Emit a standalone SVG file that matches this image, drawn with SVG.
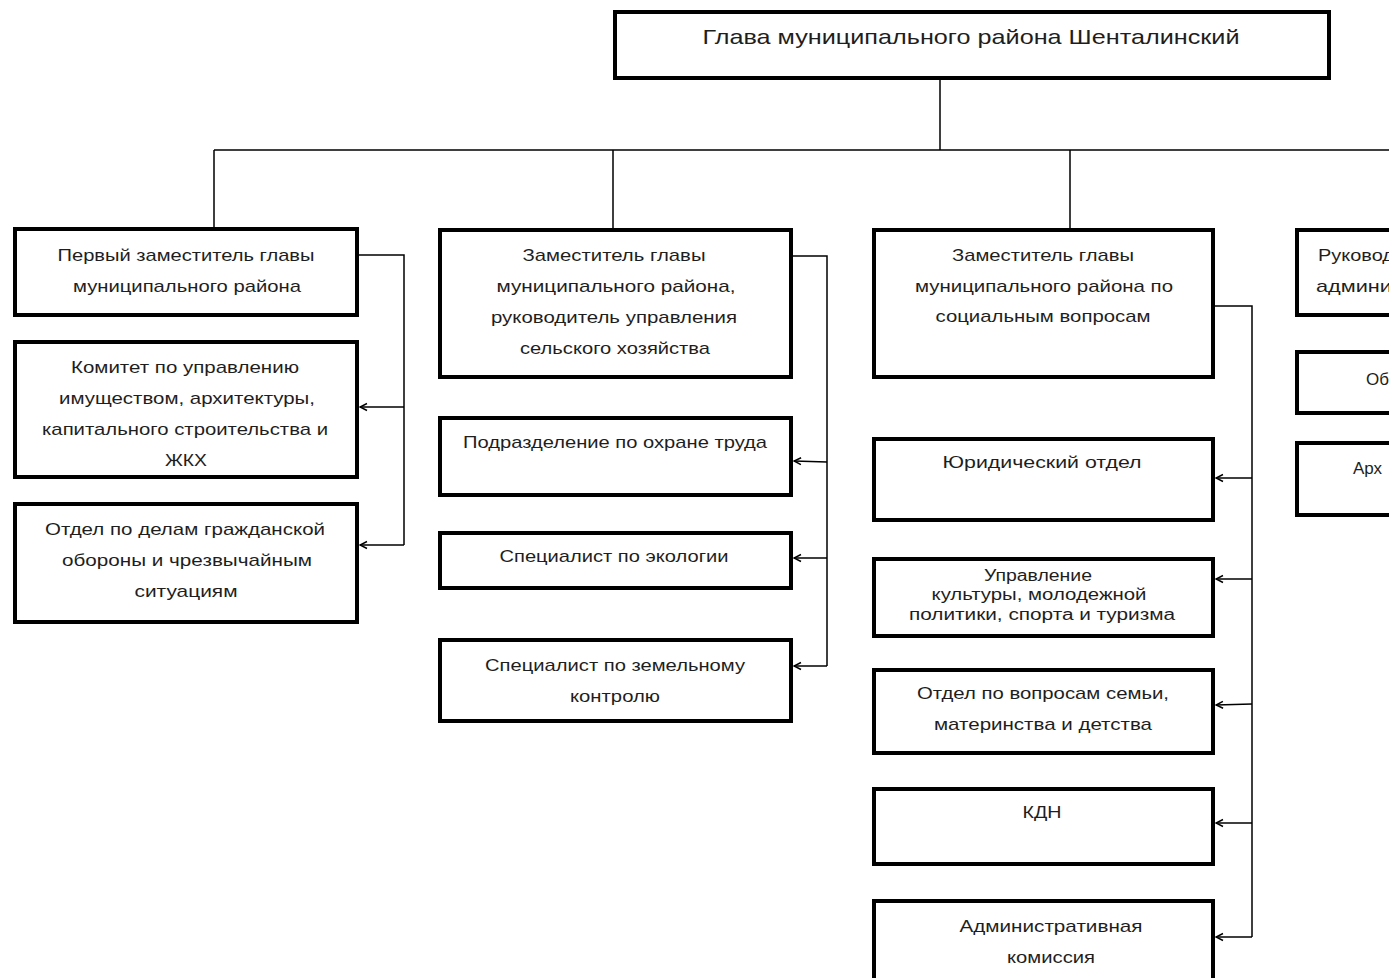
<svg xmlns="http://www.w3.org/2000/svg" width="1389" height="978" viewBox="0 0 1389 978">
<style>
.box{fill:#fff;stroke:#000;stroke-width:4}
.t{font-family:"Liberation Sans",Arial,sans-serif;font-size:17px;fill:#1e1e1e;text-anchor:middle}
.ts{font-family:"Liberation Sans",Arial,sans-serif;font-size:16px;fill:#1e1e1e;text-anchor:middle}
.tl{font-family:"Liberation Sans",Arial,sans-serif;font-size:17px;fill:#1e1e1e;text-anchor:start}
.tt{font-family:"Liberation Sans",Arial,sans-serif;font-size:21px;fill:#1e1e1e;text-anchor:middle}
.c{fill:none;stroke:#000;stroke-width:1.5}
</style>
<defs>
<marker id="arr" viewBox="0 0 10 10" refX="9" refY="5" markerWidth="10" markerHeight="10" markerUnits="userSpaceOnUse" orient="auto">
<path d="M2,1.5 L9,5 L2,8.5" fill="none" stroke="#000" stroke-width="1.5"/>
</marker>
</defs>
<rect width="1389" height="978" fill="#fff"/>
<g id="head">
<rect class="box" x="615" y="12" width="714" height="66"/>
<text class="tt" x="971" y="44" textLength="537" lengthAdjust="spacingAndGlyphs">Глава муниципального района Шенталинский</text>
</g>
<g id="first-deputy">
<rect class="box" x="15" y="229" width="342" height="86"/>
<text class="t" x="186" y="261" textLength="257" lengthAdjust="spacingAndGlyphs">Первый заместитель главы</text>
<text class="t" x="187" y="292" textLength="228" lengthAdjust="spacingAndGlyphs">муниципального района</text>
</g>
<g id="committee">
<rect class="box" x="15" y="342" width="342" height="135"/>
<text class="t" x="185" y="373" textLength="228" lengthAdjust="spacingAndGlyphs">Комитет по управлению</text>
<text class="t" x="187" y="404" textLength="256" lengthAdjust="spacingAndGlyphs">имуществом, архитектуры,</text>
<text class="t" x="185" y="435" textLength="286" lengthAdjust="spacingAndGlyphs">капитального строительства и</text>
<text class="t" x="186" y="466" textLength="42" lengthAdjust="spacingAndGlyphs">ЖКХ</text>
</g>
<g id="civil-defense">
<rect class="box" x="15" y="504" width="342" height="118"/>
<text class="t" x="185" y="535" textLength="280" lengthAdjust="spacingAndGlyphs">Отдел по делам гражданской</text>
<text class="t" x="187" y="566" textLength="250" lengthAdjust="spacingAndGlyphs">обороны и чрезвычайным</text>
<text class="t" x="186" y="597" textLength="103" lengthAdjust="spacingAndGlyphs">ситуациям</text>
</g>
<g id="deputy-agri">
<rect class="box" x="440" y="230" width="351" height="147"/>
<text class="t" x="614" y="261" textLength="183" lengthAdjust="spacingAndGlyphs">Заместитель главы</text>
<text class="t" x="616" y="292" textLength="239" lengthAdjust="spacingAndGlyphs">муниципального района,</text>
<text class="t" x="614" y="323" textLength="246" lengthAdjust="spacingAndGlyphs">руководитель управления</text>
<text class="t" x="615" y="354" textLength="190" lengthAdjust="spacingAndGlyphs">сельского хозяйства</text>
</g>
<g id="labor-safety">
<rect class="box" x="440" y="418" width="351" height="77"/>
<text class="t" x="615" y="448" textLength="304" lengthAdjust="spacingAndGlyphs">Подразделение по охране труда</text>
</g>
<g id="ecology">
<rect class="box" x="440" y="533" width="351" height="55"/>
<text class="t" x="614" y="562" textLength="229" lengthAdjust="spacingAndGlyphs">Специалист по экологии</text>
</g>
<g id="land-control">
<rect class="box" x="440" y="640" width="351" height="81"/>
<text class="t" x="615" y="671" textLength="260" lengthAdjust="spacingAndGlyphs">Специалист по земельному</text>
<text class="t" x="615" y="702" textLength="90" lengthAdjust="spacingAndGlyphs">контролю</text>
</g>
<g id="deputy-social">
<rect class="box" x="874" y="230" width="339" height="147"/>
<text class="t" x="1043" y="261" textLength="182" lengthAdjust="spacingAndGlyphs">Заместитель главы</text>
<text class="t" x="1044" y="292" textLength="258" lengthAdjust="spacingAndGlyphs">муниципального района по</text>
<text class="t" x="1043" y="322" textLength="215" lengthAdjust="spacingAndGlyphs">социальным вопросам</text>
</g>
<g id="legal">
<rect class="box" x="874" y="439" width="339" height="81"/>
<text class="t" x="1042" y="468" textLength="199" lengthAdjust="spacingAndGlyphs">Юридический отдел</text>
</g>
<g id="culture">
<rect class="box" x="874" y="559" width="339" height="77"/>
<text class="ts" x="1038" y="581" textLength="108" lengthAdjust="spacingAndGlyphs">Управление</text>
<text class="ts" x="1039" y="600" textLength="215" lengthAdjust="spacingAndGlyphs">культуры, молодежной</text>
<text class="ts" x="1042" y="620" textLength="266" lengthAdjust="spacingAndGlyphs">политики, спорта и туризма</text>
</g>
<g id="family">
<rect class="box" x="874" y="670" width="339" height="83"/>
<text class="t" x="1043" y="699" textLength="252" lengthAdjust="spacingAndGlyphs">Отдел по вопросам семьи,</text>
<text class="t" x="1043" y="730" textLength="218" lengthAdjust="spacingAndGlyphs">материнства и детства</text>
</g>
<g id="kdn">
<rect class="box" x="874" y="789" width="339" height="75"/>
<text class="t" x="1042" y="818" textLength="39" lengthAdjust="spacingAndGlyphs">КДН</text>
</g>
<g id="admin-commission">
<rect class="box" x="874" y="901" width="339" height="100"/>
<text class="t" x="1051" y="932" textLength="183" lengthAdjust="spacingAndGlyphs">Административная</text>
<text class="t" x="1051" y="963" textLength="88" lengthAdjust="spacingAndGlyphs">комиссия</text>
</g>
<g id="head-of-staff">
<rect class="box" x="1297" y="230" width="200" height="85"/>
<text class="tl" x="1318" y="261" textLength="76" lengthAdjust="spacingAndGlyphs">Руковод</text>
<text class="tl" x="1316" y="292" textLength="76" lengthAdjust="spacingAndGlyphs">админи</text>
</g>
<g id="general-dept">
<rect class="box" x="1297" y="352" width="200" height="61"/>
<text class="tl" x="1366" y="385">Об</text>
</g>
<g id="archive">
<rect class="box" x="1297" y="443" width="200" height="72"/>
<text class="tl" x="1353" y="474">Арх</text>
</g>
<g id="connectors">
<path class="c" d="M940,80 V150 M214,150 H1389 M214,150 V227 M613,150 V228 M1070,150 V228"/>
<path class="c" d="M359,255 H404 V545"/>
<line class="c" x1="404" y1="407" x2="360" y2="407" marker-end="url(#arr)"/>
<line class="c" x1="404" y1="545" x2="360" y2="545" marker-end="url(#arr)"/>
<path class="c" d="M793,256 H827 V666"/>
<line class="c" x1="827" y1="462" x2="794" y2="461" marker-end="url(#arr)"/>
<line class="c" x1="827" y1="558" x2="794" y2="558" marker-end="url(#arr)"/>
<line class="c" x1="827" y1="666" x2="794" y2="666" marker-end="url(#arr)"/>
<path class="c" d="M1215,306 H1252 V937"/>
<line class="c" x1="1252" y1="478" x2="1216" y2="478" marker-end="url(#arr)"/>
<line class="c" x1="1252" y1="579" x2="1216" y2="579" marker-end="url(#arr)"/>
<line class="c" x1="1252" y1="704" x2="1216" y2="705" marker-end="url(#arr)"/>
<line class="c" x1="1252" y1="823" x2="1216" y2="823" marker-end="url(#arr)"/>
<line class="c" x1="1252" y1="937" x2="1216" y2="937" marker-end="url(#arr)"/>
</g>
</svg>
